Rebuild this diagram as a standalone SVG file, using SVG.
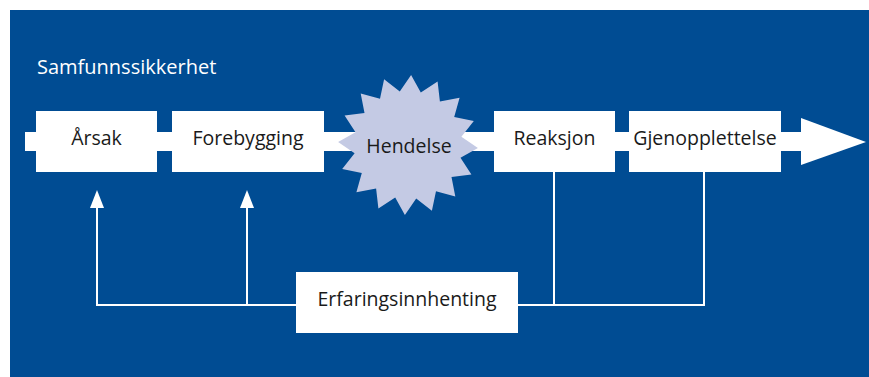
<svg xmlns="http://www.w3.org/2000/svg" width="869" height="377" viewBox="0 0 869 377">
<style>
.box{fill:#ffffff}
.lbl{font-family:"Open Sans","Noto Sans",sans-serif;font-size:19.5px;fill:#1a1a1a;text-anchor:middle}
.ttl{font-family:"Open Sans","Noto Sans",sans-serif;font-size:20px;fill:#ffffff}
.ln{stroke:#ffffff;stroke-width:2;fill:none}
.hd{fill:#ffffff}
</style>
<rect x="10" y="10" width="859" height="367" fill="#004C93"/>
<text class="ttl" x="37" y="74">Samfunnssikkerhet</text>
<g id="flow">
<rect x="25" y="132" width="777" height="19" fill="#ffffff"/>
<polygon points="801,118 866,142 801,165" fill="#ffffff"/>
</g>
<g id="connectors">
<polyline class="ln" points="97,207 97,305 704,305 704,170"/>
<line class="ln" x1="247" y1="207" x2="247" y2="305"/>
<line class="ln" x1="554" y1="170" x2="554" y2="305"/>
<polygon class="hd" points="90,208 97,190 104,208"/>
<polygon class="hd" points="240,208 247,190 254,208"/>
</g>
<g id="arsak">
<rect class="box" x="36" y="111" width="121" height="61"/>
<text class="lbl" x="96.5" y="145">Årsak</text>
</g>
<g id="forebygging">
<rect class="box" x="172" y="111" width="152" height="61"/>
<text class="lbl" x="248" y="145">Forebygging</text>
</g>
<g id="hendelse">
<polygon fill="#C4CAE4" points="411.1,75.1 420.8,92.5 437.6,81.6 439.9,101.5 459.6,97.7 454.2,117.0 473.8,121.1 461.4,136.8 477.9,148.1 460.5,157.8 471.4,174.6 451.5,176.9 455.3,196.6 436.0,191.2 431.9,210.8 416.2,198.4 404.9,214.9 395.2,197.5 378.4,208.4 376.1,188.5 356.4,192.3 361.8,173.0 342.2,168.9 354.6,153.2 338.1,141.9 355.5,132.2 344.6,115.4 364.5,113.1 360.7,93.4 380.0,98.8 384.1,79.2 399.8,91.6"/>
<text class="lbl" x="409" y="152.5">Hendelse</text>
</g>
<g id="reaksjon">
<rect class="box" x="494" y="111" width="121" height="61"/>
<text class="lbl" x="554.5" y="145">Reaksjon</text>
</g>
<g id="gjenopplettelse">
<rect class="box" x="629" y="111" width="152" height="61"/>
<text class="lbl" x="705" y="145">Gjenopplettelse</text>
</g>
<g id="erfaringsinnhenting">
<rect class="box" x="296" y="272" width="222" height="61"/>
<text class="lbl" x="407" y="306">Erfaringsinnhenting</text>
</g>
</svg>
